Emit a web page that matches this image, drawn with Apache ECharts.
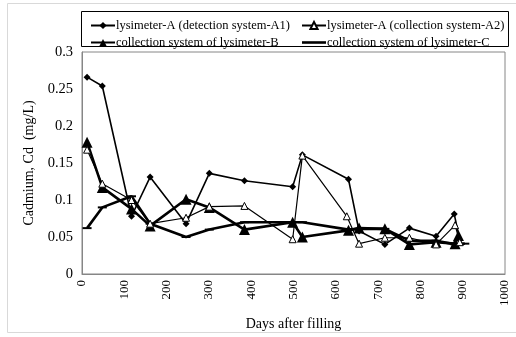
<!DOCTYPE html>
<html>
<head>
<meta charset="utf-8">
<script src="https://cdn.jsdelivr.net/npm/echarts@6/dist/echarts.min.js"></script>
<style>
  html, body { margin: 0; padding: 0; background: #fff; }
  #chart { width: 516px; height: 337px; }
</style>
</head>
<body>
<div id="chart"></div>
<script>
// days after filling for each series
const daysA1 = [12, 48, 117, 161, 246, 301, 384, 498, 521, 630, 655, 716, 774, 837, 880, 893];
const cdA1 = [0.266, 0.254, 0.078, 0.131, 0.068, 0.136, 0.126, 0.118, 0.161, 0.128, 0.058, 0.04, 0.062, 0.051, 0.081, 0.046];

const daysA2 = [12, 48, 117, 161, 246, 301, 384, 498, 521, 626, 655, 716, 774, 837, 882, 893];
const cdA2 = [0.168, 0.122, 0.1, 0.068, 0.076, 0.091, 0.092, 0.047, 0.16, 0.078, 0.041, 0.049, 0.049, 0.04, 0.066, 0.043];

const daysB = [12, 48, 117, 161, 246, 301, 384, 498, 521, 630, 655, 716, 774, 837, 882, 890];
const cdB = [0.178, 0.117, 0.088, 0.065, 0.101, 0.09, 0.06, 0.07, 0.05, 0.059, 0.062, 0.061, 0.04, 0.043, 0.041, 0.052];

const daysC = [12, 48, 117, 161, 246, 301, 384, 498, 521, 630, 655, 716, 774, 837, 882, 905];
const cdC = [0.062, 0.09, 0.105, 0.068, 0.05, 0.06, 0.07, 0.07, 0.07, 0.06, 0.061, 0.061, 0.045, 0.045, 0.04, 0.041];

const names = [
  'lysimeter-A (detection system-A1)',
  'lysimeter-A (collection system-A2)',
  'collection system of lysimeter-B',
  'collection system of lysimeter-C'
];

const pairs = (xs, ys) => xs.map((d, i) => [d, ys[i]]);

const font = 'Liberation Serif';
const chart = echarts.init(document.getElementById('chart'));

const legendText = { fontFamily: font, fontSize: 12.5, color: '#000', padding: [0, 0, 0, -4], lineHeight: 15 };

const option = {
  animation: false,
  textStyle: { fontFamily: font },
  graphic: [
    {
      type: 'rect',
      shape: { x: 7.5, y: 3.5, width: 530, height: 329 },
      style: { fill: 'none', stroke: '#d9d9d9', lineWidth: 1 },
      z: -1
    },
    {
      type: 'rect',
      shape: { x: 81.5, y: 11.5, width: 427, height: 35 },
      style: { fill: 'none', stroke: '#000', lineWidth: 1 }
    }
  ],
  legend: [
    {
      orient: 'vertical',
      left: 85, top: 13,
      itemGap: 2, itemWidth: 24, itemHeight: 9,
      data: [names[0], names[2]],
      textStyle: legendText
    },
    {
      orient: 'vertical',
      left: 296, top: 13,
      itemGap: 2, itemWidth: 24, itemHeight: 9,
      data: [
        names[1],
        { name: names[3], icon: 'path://M0,0H24V2.6H0Z' }
      ],
      textStyle: legendText
    }
  ],
  grid: {
    left: 82, right: 11, top: 52, bottom: 63,
    show: true, borderColor: '#868686', borderWidth: 1
  },
  xAxis: {
    type: 'value',
    min: 0, max: 1000, interval: 100,
    name: 'Days after filling',
    nameLocation: 'middle', nameGap: 43,
    nameTextStyle: { fontFamily: font, fontSize: 14, color: '#000' },
    axisLine: { lineStyle: { color: '#868686' } },
    axisTick: { show: false },
    splitLine: { show: false },
    axisLabel: {
      rotate: 90, fontFamily: font, fontSize: 13, color: '#000', margin: 6,
      formatter: v => String(v)
    }
  },
  yAxis: {
    type: 'value',
    min: 0, max: 0.3, interval: 0.05,
    name: 'Cadmium, Cd  (mg/L)',
    nameLocation: 'middle', nameGap: 42,
    nameTextStyle: { fontFamily: font, fontSize: 14, color: '#000' },
    axisLine: { show: true, lineStyle: { color: '#868686' } },
    axisTick: { show: false },
    splitLine: { show: false },
    axisLabel: { fontFamily: font, fontSize: 14.5, color: '#000', margin: 9 }
  },
  series: [
    {
      name: names[0], type: 'line',
      data: pairs(daysA1, cdA1),
      symbol: 'diamond', symbolSize: 7,
      itemStyle: { color: '#000' },
      lineStyle: { color: '#000', width: 1.6 },
      z: 4
    },
    {
      name: names[1], type: 'line',
      data: pairs(daysA2, cdA2),
      symbol: 'triangle', symbolSize: 7,
      itemStyle: { color: '#fff', borderColor: '#000', borderWidth: 1 },
      lineStyle: { color: '#000', width: 1.2 },
      z: 5
    },
    {
      name: names[2], type: 'line',
      data: pairs(daysB, cdB),
      symbol: 'triangle', symbolSize: 11,
      itemStyle: { color: '#000' },
      lineStyle: { color: '#000', width: 2.6 },
      z: 3
    },
    {
      name: names[3], type: 'line',
      data: pairs(daysC, cdC),
      symbol: 'rect', symbolSize: [9, 2],
      itemStyle: { color: '#000' },
      lineStyle: { color: '#000', width: 2.6 },
      z: 2
    }
  ]
};

chart.setOption(option);
</script>
</body>
</html>
